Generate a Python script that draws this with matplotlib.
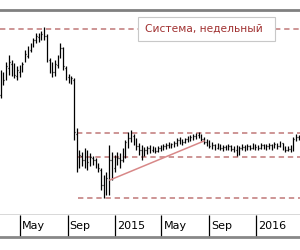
import matplotlib
matplotlib.use("Agg")
import matplotlib.pyplot as plt
import matplotlib.transforms as mtransforms
from matplotlib.patches import Rectangle
import pandas as pd
import numpy as np

# ---- data (weekly OHLC) ----
start_date = "2014-03-12"
high = [36.0, 35.6, 37.6, 39.0, 38.0, 37.4, 36.8, 37.0, 37.6, 40.0, 40.8, 41.4, 42.4, 43.4, 43.4, 43.8, 44.6,
        43.2, 38.4, 37.6, 38.0, 39.0, 41.4, 40.6, 36.8, 35.2, 34.8, 34.4, 24.4, 20.0, 19.6, 20.4, 20.0, 19.4,
        18.8, 18.4, 17.4, 16.4, 15.0, 15.6, 21.0, 19.6, 19.0, 19.6, 19.4, 20.4, 22.0, 23.6, 24.0, 23.2, 22.4,
        21.4, 21.0, 20.6, 20.8, 21.0, 20.8, 20.6, 20.8, 21.0, 21.2, 21.4, 21.6, 21.4, 21.8, 22.4, 22.6, 22.2,
        22.4, 22.8, 23.0, 23.2, 23.4, 23.6, 23.2, 22.6, 22.2, 22.0, 21.6, 21.2, 21.4, 21.2, 21.0, 21.0, 21.2,
        21.0, 20.8, 21.0, 20.8, 21.2, 21.0, 21.2, 21.0, 21.4, 21.2, 21.0, 21.4, 21.2, 21.2, 21.4, 21.2, 21.6,
        21.4, 21.8, 21.4, 20.8, 20.8, 21.0, 22.6, 23.2, 23.0]
low = [30.4, 33.0, 34.0, 35.0, 34.8, 34.4, 34.0, 34.6, 35.6, 37.6, 38.4, 39.6, 40.6, 41.4, 41.6, 42.0, 42.0,
       37.6, 35.4, 34.6, 34.8, 36.4, 38.4, 36.0, 34.0, 33.4, 33.2, 22.0, 15.6, 16.4, 16.8, 16.4, 16.0, 16.8,
       17.0, 16.4, 15.6, 12.0, 10.4, 11.0, 11.0, 14.0, 15.6, 17.0, 16.4, 17.6, 18.4, 20.4, 21.6, 21.0, 20.0,
       19.0, 18.0, 18.8, 19.2, 19.4, 19.6, 19.4, 19.6, 19.8, 20.0, 20.2, 20.4, 20.4, 20.6, 20.8, 21.2, 21.0,
       21.4, 21.6, 21.8, 22.0, 22.2, 22.4, 21.8, 21.2, 20.8, 20.4, 20.2, 20.0, 20.2, 20.0, 19.8, 20.0, 20.0,
       19.8, 19.6, 18.8, 19.0, 20.0, 19.8, 20.0, 20.0, 20.2, 20.0, 20.0, 20.2, 20.2, 20.0, 20.2, 20.0, 20.4,
       20.2, 20.6, 20.0, 19.6, 19.8, 19.6, 19.8, 21.8, 22.0]
open_ = [31.0, 34.8, 34.4, 36.4, 37.2, 36.0, 34.8, 35.6, 36.4, 38.0, 38.8, 40.0, 41.0, 42.0, 42.6, 42.4, 43.0,
         42.8, 38.0, 36.4, 35.6, 37.0, 38.8, 40.4, 36.4, 34.6, 34.0, 34.0, 23.2, 18.4, 18.8, 18.0, 19.6, 18.0,
         18.4, 18.0, 17.2, 16.0, 13.0, 12.0, 14.0, 18.0, 16.4, 17.6, 18.4, 18.0, 19.6, 21.6, 22.4, 22.8, 22.0,
         20.8, 20.0, 19.6, 20.0, 20.4, 20.0, 20.2, 19.8, 20.4, 20.6, 20.8, 21.0, 20.8, 21.2, 21.4, 22.0, 21.8,
         21.6, 22.2, 22.4, 22.6, 22.8, 23.0, 22.8, 22.2, 21.6, 21.4, 20.8, 21.0, 20.4, 20.8, 20.4, 20.6, 20.4,
         20.8, 20.2, 20.0, 19.2, 20.4, 20.6, 20.4, 20.8, 20.4, 21.0, 20.6, 20.4, 21.0, 20.6, 20.8, 21.0, 20.6,
         21.2, 20.8, 21.4, 20.4, 20.0, 20.2, 20.0, 22.2, 22.6]
close = [35.0, 34.0, 36.8, 37.6, 35.6, 35.0, 36.0, 36.4, 37.2, 39.2, 40.0, 41.0, 42.0, 42.8, 42.4, 43.2, 42.8,
         38.4, 36.4, 35.6, 37.2, 38.4, 40.4, 36.8, 34.8, 34.0, 34.4, 23.6, 18.4, 19.0, 18.0, 19.6, 17.6, 18.6,
         18.0, 17.4, 16.4, 13.0, 12.0, 14.4, 18.0, 16.0, 17.6, 18.4, 18.0, 19.6, 21.6, 22.4, 22.8, 22.0, 20.8,
         20.0, 19.6, 20.0, 20.4, 20.0, 20.2, 19.8, 20.4, 20.6, 20.8, 21.0, 20.8, 21.2, 21.4, 22.0, 21.8, 21.6,
         22.2, 22.4, 22.6, 22.8, 23.0, 22.8, 22.2, 21.6, 21.4, 20.8, 21.0, 20.4, 20.8, 20.4, 20.6, 20.4, 20.8,
         20.2, 20.0, 19.2, 20.4, 20.6, 20.4, 20.8, 20.4, 21.0, 20.6, 20.4, 21.0, 20.6, 20.8, 21.0, 20.6, 21.2,
         20.8, 21.4, 20.4, 20.0, 20.2, 20.0, 22.2, 22.6, 22.4]

level_values = [44.2, 23.4, 18.6, 10.4]
level_starts = ["2014-03-10", "2014-09-25", "2014-09-25", "2014-09-28"]
trend_dates = ["2014-12-19", "2015-08-19"]
trend_values = [14.0, 21.8]

tick_dates = ["2014-05-01", "2014-09-01", "2015-01-01", "2015-05-01", "2015-09-01", "2016-01-01"]
tick_labels = ["May", "Sep", "2015", "May", "Sep", "2016"]
title_text = "Система, недельный"

x_start, x_end = "2014-03-10", "2016-04-23"
y_min, y_max = 7.0, 48.0

# ---- figure ----
W, H = 300, 250
fig = plt.figure(figsize=(W / 100, H / 100), dpi=100)
fig.patch.set_facecolor("white")

ax = fig.add_axes([0, 1 - 215 / H, 1, 205 / H])
band = fig.add_axes([0, 1 - 237 / H, 1, 22 / H], sharex=ax)

dates = pd.date_range(start_date, periods=len(high), freq="7D")
d = matplotlib.dates.date2num(dates)
half = 1.6

ax.vlines(d, low, high, color="black", lw=0.9)
ax.hlines(open_, d - half, d, color="black", lw=0.9)
ax.hlines(close, d, d + half, color="black", lw=0.9)

x1 = matplotlib.dates.date2num(pd.to_datetime(x_end))
for lv, ls in zip(level_values, level_starts):
    xs = matplotlib.dates.date2num(pd.to_datetime(ls))
    ax.plot([xs, x1], [lv, lv], color="#c07878", lw=1.1, ls=(0, (3.5, 2.5)), zorder=1)

ax.plot(matplotlib.dates.date2num(pd.to_datetime(trend_dates)), trend_values,
        color="#d88888", lw=1.1, zorder=2)

# title box
ax.add_patch(Rectangle((138 / W, (215 - 41) / 205), 137 / W, 24 / 205, transform=ax.transAxes,
                       facecolor="white", edgecolor="#c8c8c8", lw=0.8, zorder=5))
ax.text(204 / W, (215 - 29) / 205, title_text, transform=ax.transAxes, ha="center", va="center",
        fontsize=7.7, color="#a03030", family="DejaVu Sans", zorder=6)

ax.set_xlim(matplotlib.dates.date2num(pd.to_datetime(x_start)), x1)
ax.set_ylim(y_min, y_max)
ax.set_xticks([])
ax.set_yticks([])
for s in ["left", "right"]:
    ax.spines[s].set_visible(False)
ax.spines["top"].set_color("#808080")
ax.spines["top"].set_linewidth(2)
ax.spines["bottom"].set_color("#404040")
ax.spines["bottom"].set_linewidth(1)

# date band
band.set_ylim(0, 1)
band.set_yticks([])
band.tick_params(axis="x", which="both", bottom=False, labelbottom=False)
for s in ["left", "right", "top"]:
    band.spines[s].set_visible(False)
band.spines["bottom"].set_color("#888888")
band.spines["bottom"].set_linewidth(2)
td = matplotlib.dates.date2num(pd.to_datetime(tick_dates))
band.vlines(td, 0, 1, color="black", lw=0.9)
off = mtransforms.offset_copy(band.transData, fig=fig, x=2, y=0, units="dots")
for x, lab in zip(td, tick_labels):
    band.text(x, 0.5, lab, transform=off, ha="left", va="center", fontsize=8, color="black")

fig.savefig("out.png", dpi=100, facecolor="white")
